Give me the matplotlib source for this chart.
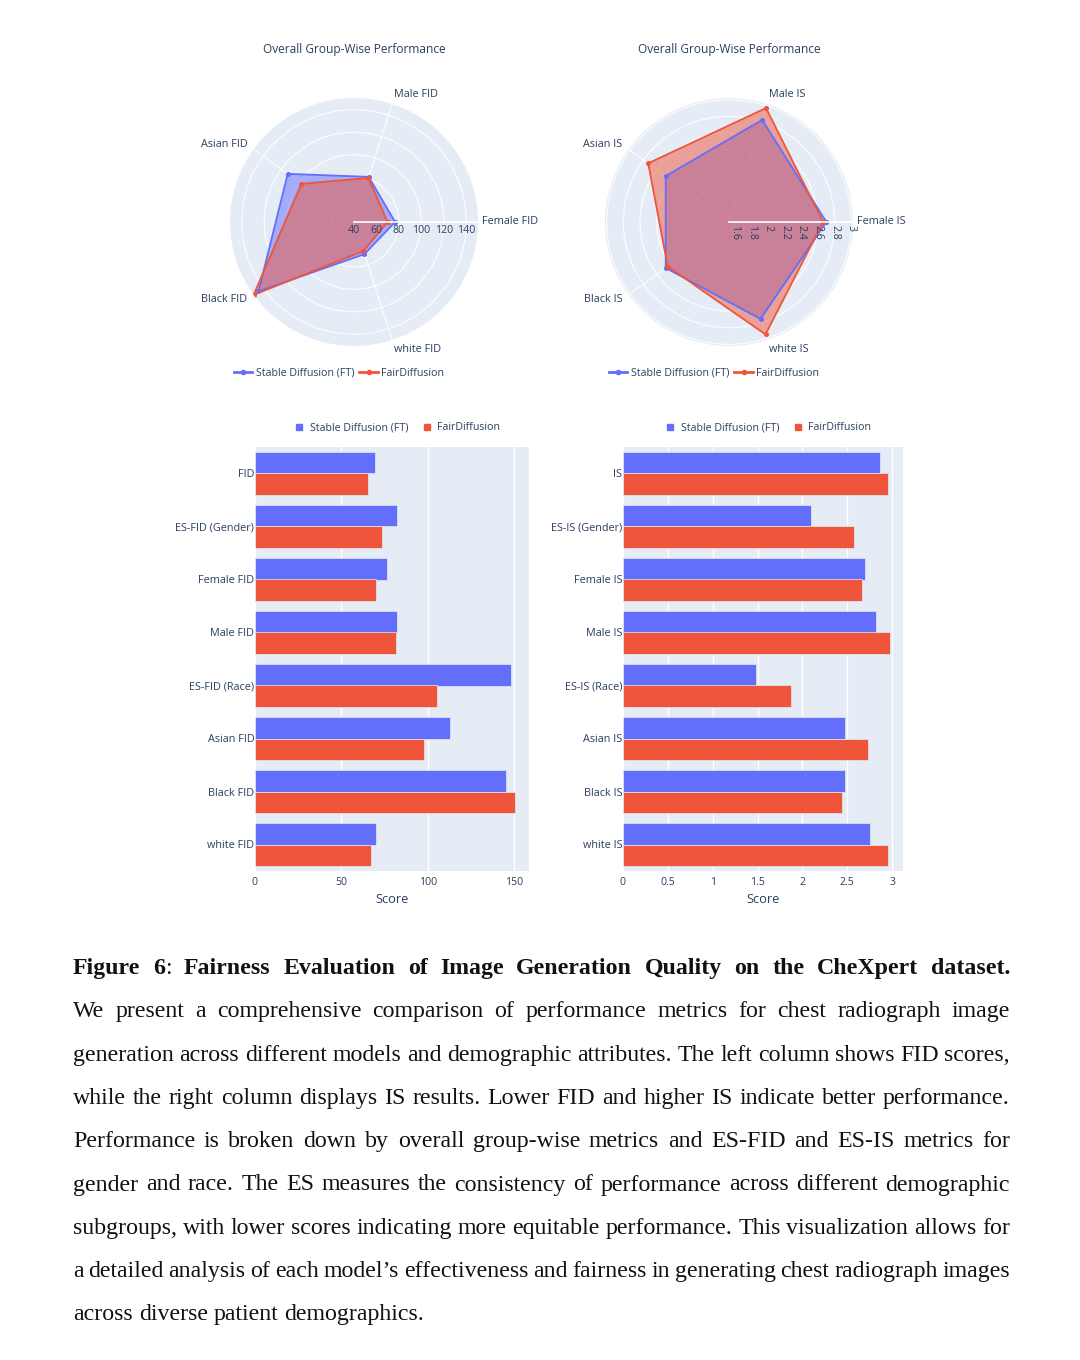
import numpy as np
import matplotlib
matplotlib.use('Agg')
from matplotlib import pyplot as plt
from matplotlib.lines import Line2D

W, H = 1080, 1360
plt.rcParams['font.family'] = ['Open Sans', 'DejaVu Sans']

BLUE = '#636EFA'
RED = '#EF553B'
BG = '#E5ECF6'
INK = '#2a3f5f'

models = ['Stable Diffusion (FT)', 'FairDiffusion']

fid_labels = ['FID', 'ES-FID (Gender)', 'Female FID', 'Male FID', 'ES-FID (Race)',
              'Asian FID', 'Black FID', 'white FID']
fid_sd = [69.7, 81.9, 76.6, 82.3, 147.9, 113.0, 145.2, 70.1]
fid_fd = [65.4, 73.4, 69.9, 81.3, 105.5, 97.9, 150.6, 67.2]

is_labels = ['IS', 'ES-IS (Gender)', 'Female IS', 'Male IS', 'ES-IS (Race)',
             'Asian IS', 'Black IS', 'white IS']
is_sd = [2.86, 2.09, 2.70, 2.82, 1.48, 2.47, 2.47, 2.755]
is_fd = [2.95, 2.57, 2.66, 2.97, 1.875, 2.73, 2.44, 2.95]

radar_groups = ['Female', 'Male', 'Asian', 'Black', 'white']

caption_title = [[('Figure', 'bold')], [('6', 'bold'), (':', 'normal')], [('Fairness', 'bold')],
                 [('Evaluation', 'bold')], [('of', 'bold')], [('Image', 'bold')],
                 [('Generation', 'bold')], [('Quality', 'bold')], [('on', 'bold')],
                 [('the', 'bold')], [('CheXpert', 'bold')], [('dataset.', 'bold')]]
caption_lines = [
    "We present a comprehensive comparison of performance metrics for chest radiograph image",
    "generation across different models and demographic attributes. The left column shows FID scores,",
    "while the right column displays IS results. Lower FID and higher IS indicate better performance.",
    "Performance is broken down by overall group-wise metrics and ES-FID and ES-IS metrics for",
    "gender and race. The ES measures the consistency of performance across different demographic",
    "subgroups, with lower scores indicating more equitable performance. This visualization allows for",
    "a detailed analysis of each model\u2019s effectiveness and fairness in generating chest radiograph images",
    "across diverse patient demographics.",
]


def rect(x0, y0, x1, y1):
    return [x0 / W, 1 - y1 / H, (x1 - x0) / W, (y1 - y0) / H]


fig = plt.figure(figsize=(W / 100, H / 100), dpi=100)
fig.patch.set_facecolor('white')


def radar(cx, cy, rad, labels, sd, fd, suffix, rlim, rticks, fmt, rotate):
    ax = fig.add_axes(rect(cx - rad, cy - rad, cx + rad, cy + rad), projection='polar')
    ax.set_facecolor(BG)
    ax.set_axisbelow(True)
    sd_v = [sd[labels.index(f'{g} {suffix}')] for g in radar_groups]
    fd_v = [fd[labels.index(f'{g} {suffix}')] for g in radar_groups]
    ang = np.linspace(0, 2 * np.pi, len(radar_groups), endpoint=False)
    angc = np.append(ang, ang[0])
    for vals, c in [(sd_v, BLUE), (fd_v, RED)]:
        v = np.append(vals, vals[0])
        ax.fill(angc, v, color=c, alpha=0.5, lw=0)
        ax.plot(angc, v, color=c, lw=1.3, marker='o', ms=2.6)
    ax.set_ylim(*rlim)
    ax.set_xticks(ang)
    ax.set_xticklabels([])
    ax.set_yticks(rticks)
    ax.set_yticklabels([])
    ax.grid(color='white', lw=0.8, alpha=0.9)
    ax.spines['polar'].set_visible(False)
    # radial axis line on top
    ax.plot([0, 0], list(rlim), color='white', lw=1.2, zorder=5)
    for a, g in zip(ang, radar_groups):
        c, s = np.cos(a), np.sin(a)
        ha = 'left' if c > 0.1 else ('right' if c < -0.1 else 'center')
        va = 'bottom' if s > 0.7 else ('top' if s < -0.7 else 'center')
        off = 3 if abs(s) > 0.7 or abs(s) < 0.1 else 5.5
        ax.annotate(f'{g} {suffix}', (a, rlim[1]), xytext=(off * c, off * s),
                    textcoords='offset points', ha=ha, va=va, fontsize=7.8,
                    color=INK, annotation_clip=False)
    for r in rticks:
        ax.annotate(fmt(r), (0, r), xytext=(0, -2), textcoords='offset points',
                    ha='center', va='top', rotation=-90 if rotate else 0,
                    fontsize=7.6, color=INK, annotation_clip=False, zorder=6)
    fig.text(cx / W, 1 - 50 / H, 'Overall Group-Wise Performance', ha='center',
             va='center', fontsize=8.6, color=INK)
    handles = [Line2D([0], [0], color=BLUE, lw=2, marker='o', ms=3),
               Line2D([0], [0], color=RED, lw=2, marker='o', ms=3)]
    fig.legend(handles, models, loc='center', bbox_to_anchor=((cx - 15) / W, 1 - 373 / H),
               ncol=2, frameon=False, fontsize=7.7, handlelength=1.7,
               columnspacing=0.5, handletextpad=0.3, labelcolor=INK)


radar(354, 222, 124, fid_labels, fid_sd, fid_fd, 'FID', (40, 150.5),
      [40, 60, 80, 100, 120, 140], lambda r: f'{r:g}', False)
radar(729, 222, 124, is_labels, is_sd, is_fd, 'IS', (1.53, 3.02),
      [1.6, 1.8, 2.0, 2.2, 2.4, 2.6, 2.8, 3.0], lambda r: f'{r:g}', True)


def bars(x0, x1, labels, sd, fd, xlim, xticks, leg_cx):
    ax = fig.add_axes(rect(x0, 447, x1, 871))
    ax.set_facecolor(BG)
    ax.set_axisbelow(True)
    y = np.arange(len(labels))
    h = 0.4
    ax.barh(y - h / 2, sd, height=h, color=BLUE, edgecolor=BG, lw=0.5)
    ax.barh(y + h / 2, fd, height=h, color=RED, edgecolor=BG, lw=0.5)
    ax.set_ylim(len(labels) - 0.5, -0.5)
    ax.set_yticks(y, labels)
    ax.set_xlim(*xlim)
    ax.set_xticks(xticks, [f'{t:g}' for t in xticks])
    ax.grid(axis='x', color='white', lw=1)
    for s in ax.spines.values():
        s.set_visible(False)
    ax.tick_params(axis='y', length=0, labelsize=7.8, labelcolor=INK, pad=0.5)
    ax.tick_params(axis='x', length=0, labelsize=7.6, labelcolor=INK, pad=4)
    ax.set_xlabel('Score', fontsize=9.2, color=INK, labelpad=4)
    handles = [Line2D([0], [0], color=BLUE, ls='none', marker='s', ms=5),
               Line2D([0], [0], color=RED, ls='none', marker='s', ms=5)]
    fig.legend(handles, models, loc='center', bbox_to_anchor=(leg_cx / W, 1 - 428 / H),
               ncol=2, frameon=False, fontsize=7.7, handlelength=1.0,
               columnspacing=1.2, handletextpad=0.5, labelcolor=INK)


bars(255, 529, fid_labels, fid_sd, fid_fd, (0, 158.5), [0, 50, 100, 150], 397)
bars(623, 903, is_labels, is_sd, is_fd, (0, 3.12), [0, 0.5, 1, 1.5, 2, 2.5, 3], 768)

# caption, justified line by line
SERIF = 'Liberation Serif'
FS = 17.2
renderer = fig.canvas.get_renderer()


def seg_w(s, weight):
    t = fig.text(0, 0, s, fontsize=FS, family=SERIF, weight=weight)
    w = t.get_window_extent(renderer).width
    t.remove()
    return w


space = seg_w('x x', 'normal') - seg_w('xx', 'normal')
left, right = 73, 1010
base0, step = 974, 43.3

all_lines = [caption_title] + [[[(w, 'normal')] for w in ln.split(' ')] for ln in caption_lines]
for i, words in enumerate(all_lines):
    widths = [sum(seg_w(s, wt) for s, wt in word) for word in words]
    last = i == len(all_lines) - 1
    gap = space if last else (right - left - sum(widths)) / (len(words) - 1)
    x = left
    yb = 1 - (base0 + i * step) / H
    for word, w in zip(words, widths):
        xs = x
        for s, wt in word:
            fig.text(xs / W, yb, s, fontsize=FS, family=SERIF, weight=wt,
                     va='baseline', ha='left', color='#111111')
            xs += seg_w(s, wt)
        x += w + gap

fig.savefig('out.png', dpi=100)
